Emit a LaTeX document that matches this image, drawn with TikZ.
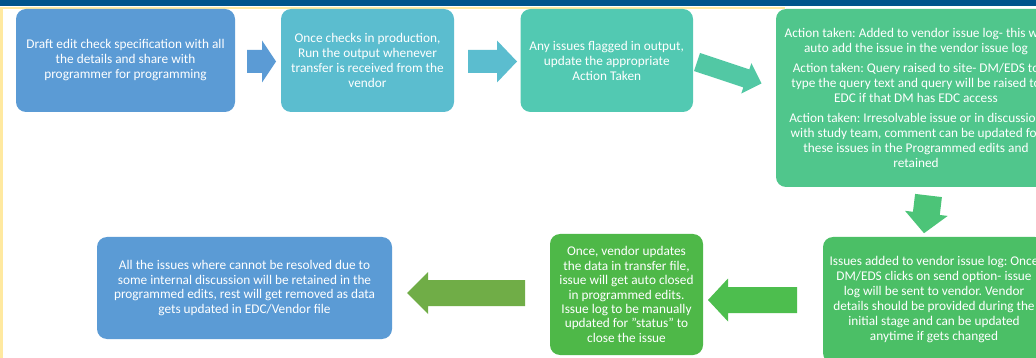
\documentclass[tikz,border=0pt]{standalone}
\usepackage{fontspec}
\setmainfont{Carlito}
\frenchspacing
\definecolor{topbar}{RGB}{0,84,140}
\definecolor{frameY}{RGB}{255,233,160}
\definecolor{cA}{RGB}{91,155,213}
\definecolor{cB}{RGB}{91,189,207}
\definecolor{cC}{RGB}{82,201,178}
\definecolor{cCa}{RGB}{82,200,164}
\definecolor{cD}{RGB}{80,198,140}
\definecolor{cDa}{RGB}{76,196,120}
\definecolor{cE}{RGB}{75,191,102}
\definecolor{cEa}{RGB}{77,190,78}
\definecolor{cF}{RGB}{78,184,72}
\definecolor{cG}{RGB}{112,173,71}
\newcommand\blockarr[8]{% x y angle L s H h color
  \fill[#8, shift={(#1,#2)}, rotate=#3] (0,-#5/2) -- (#4-#7,-#5/2) -- (#4-#7,-#6/2) -- (#4,0) -- (#4-#7,#6/2) -- (#4-#7,#5/2) -- (0,#5/2) -- cycle;}
\tikzset{
  box/.style={rounded corners=10pt, inner sep=0pt, align=center, text=white,
    font=\fontsize{13.3}{15}\selectfont},
}
\begin{document}
\begin{tikzpicture}[x=1pt,y=-1pt]
\clip (0,0) rectangle (1036,358);
\fill[white] (0,0) rectangle (1036,358);
\fill[topbar] (0,0) rectangle (1036,6.5);
\fill[frameY] (0,7.5) rectangle (785,9.5);
\fill[frameY] (0,7.5) rectangle (3,358);
% boxes
\node[box, fill=cA, minimum width=219pt, minimum height=103pt] (b1) at (125.5,60.5)
  {Draft edit check specification with all\\ the details and share with\\ programmer for programming};
\node[box, fill=cB, minimum width=173pt, minimum height=103pt] (b2) at (367.5,60.5)
  {Once checks in production,\\ Run the output whenever\\ transfer is received from the\\ vendor};
\node[box, fill=cC, minimum width=172.5pt, minimum height=103pt] (b3) at (606.75,60.5)
  {Any issues flagged in output,\\ update the appropriate\\ Action Taken};
\node[box, fill=cD, minimum width=280pt, minimum height=178pt] (b4) at (916,98)
  {Action taken: Added to vendor issue log- this will\\ auto add the issue in the vendor issue log\\[5pt]
   Action taken: Query raised to site- DM/EDS to\\ type the query text and query will be raised to\\ EDC if that DM has EDC access\\[5pt]
   Action taken: Irresolvable issue or in discussion\\ with study team, comment can be updated for\\ these issues in the Programmed edits and\\ retained};
\node[box, fill=cE, minimum width=222pt, minimum height=126pt] (b5) at (934,300)
  {Issues added to vendor issue log: Once\\ DM/EDS clicks on send option- issue\\ log will be sent to vendor. Vendor\\ details should be provided during the\\ initial stage and can be updated\\ anytime if gets changed};
\node[box, fill=cF, minimum width=153pt, minimum height=121pt, font=\fontsize{13.3}{14.4}\selectfont] (b6) at (626.5,294.5)
  {Once, vendor updates\\ the data in transfer file,\\ issue will get auto closed\\ in programmed edits.\\ Issue log to be manually\\ updated for \char"22 status\char"22\ to\\ close the issue};
\node[box, fill=cA, minimum width=295pt, minimum height=102pt, font=\fontsize{13.3}{14.4}\selectfont] (b7) at (244.5,288)
  {All the issues where cannot be resolved due to\\ some internal discussion will be retained in the\\ programmed edits, rest will get removed as data\\ gets updated in EDC/Vendor file};
% block arrows
\blockarr{247}{61.5}{0}{29}{23}{42}{14}{cA}
\blockarr{468}{61.5}{0}{49}{23}{42}{20}{cB}
\blockarr{697}{62}{-18.4}{68}{19}{32}{16}{cCa}
\blockarr{928.5}{195.5}{-96.8}{38}{27}{43}{20}{cDa}
\blockarr{797}{300}{180}{89}{26}{43}{20}{cEa}
\blockarr{525}{293}{180}{118}{26}{42}{21}{cG}
\end{tikzpicture}
\end{document}
